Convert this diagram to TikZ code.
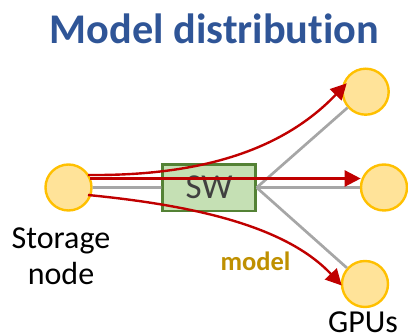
\documentclass[tikz,border=0pt]{standalone}
\usepackage{fontspec}
\setmainfont[Ligatures=NoCommon]{Carlito}
\usetikzlibrary{arrows.meta}
\definecolor{ttl}{HTML}{2F5597}
\definecolor{cfill}{HTML}{FFE399}
\definecolor{cline}{HTML}{FFC000}
\definecolor{boxfill}{HTML}{C5E0B4}
\definecolor{boxline}{HTML}{548235}
\definecolor{red1}{HTML}{C00000}
\definecolor{gray1}{HTML}{A6A6A6}
\definecolor{gold}{HTML}{BF9000}
\definecolor{swtxt}{HTML}{404040}
\tikzset{
  circ/.style={circle,draw=cline,fill=cfill,line width=2.4pt,minimum size=46pt,inner sep=0pt},
  lnk/.style={draw=gray1,line width=2.7pt},
  flow/.style={draw=red1,line width=2.4pt,-{Triangle[length=16pt,width=16pt]}},
  lbl/.style={font=\fontsize{32}{36}\selectfont,align=center,text=black,inner sep=0pt}
}
\begin{document}
\begin{tikzpicture}[x=1pt,y=-1pt]
\useasboundingbox (0,0) rectangle (408,336);
\node[font=\bfseries\fontsize{42.3}{46}\selectfont,text=ttl,inner sep=0pt,anchor=base] (title) at (214.5,43.5) {Model distribution};
\node[circ] (src) at (68.5,187.5) {};
\node[circ] (g1) at (365.7,91.7) {};
\node[circ] (g2) at (384,187.5) {};
\node[circ] (g3) at (365,284) {};
\node[draw=boxline,fill=boxfill,line width=2.4pt,minimum width=93pt,minimum height=46.5pt,inner sep=0pt,anchor=center,font=\fontsize{35}{40}\selectfont,text=swtxt] (sw) at (209,187.6) {SW};
\draw[lnk] (src) -- (sw.west);
\draw[lnk] (sw.east) -- (g1);
\draw[lnk] (sw.east) -- (g2);
\draw[lnk] (sw.east) -- (g3);
\coordinate (s1) at (88,175);
\coordinate (s2) at (90,178.5);
\coordinate (s3) at (88,195);
\coordinate (t1) at (346.7,83.3);
\coordinate (t2) at (360.7,178.5);
\coordinate (t3) at (341.7,285.5);
\draw[flow] (s1) .. controls (195,176) and (280,153) .. (t1);
\draw[flow] (s2) -- (t2);
\draw[flow] (s3) .. controls (190,205) and (285,225) .. (t3);
\node[lbl,anchor=base] (storage) at (61,249) {Storage};
\node[lbl,anchor=base] (node2) at (61,285) {node};
\node[lbl,anchor=base] (gpus) at (363,332.5) {GPUs};
\node[font=\bfseries\fontsize{26.5}{30}\selectfont,text=gold,inner sep=0pt,anchor=base] (model) at (255.5,271) {model};
\end{tikzpicture}
\end{document}
